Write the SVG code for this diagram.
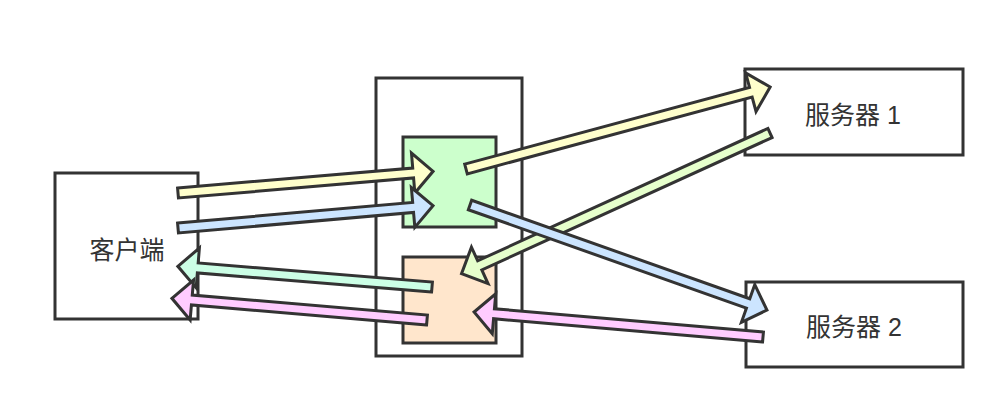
<svg xmlns="http://www.w3.org/2000/svg" width="995" height="418" viewBox="0 0 995 418">
<style>
.box{stroke:#333;stroke-width:3;fill:#fff}
.arr{stroke:#333;stroke-width:3;stroke-linejoin:miter}
.lbl{font-family:"Liberation Sans","Noto Sans CJK SC",sans-serif;font-size:25px;fill:#333;text-anchor:middle;dominant-baseline:central}
</style>
<rect width="995" height="418" fill="#fff"/>
<g id="client"><rect class="box" x="55" y="173" width="143" height="146"/><text class="lbl" x="127" y="250">客户端</text></g>
<g id="proxy"><rect class="box" x="376" y="78" width="146" height="278"/></g>
<g id="proxy-in"><rect class="box" x="403" y="137" width="93" height="90" style="fill:#ccffcc"/></g>
<g id="proxy-out"><rect class="box" x="403" y="257" width="93" height="86" style="fill:#ffe6cc"/></g>
<g id="server1"><rect class="box" x="745" y="69" width="218" height="86"/><text class="lbl" x="853" y="115">服务器 1</text></g>
<g id="server2"><rect class="box" x="746" y="282" width="217" height="85"/><text class="lbl" x="854" y="327">服务器 2</text></g>
<g id="connectors">
<path class="arr" fill="#ffffcc" transform="translate(178,193) rotate(-4.86)" d="M0,-5 H236 V-20 L256,0 L236,20 V5 H0 Z"/>
<path class="arr" fill="#cce5ff" transform="translate(178,228) rotate(-5.0)" d="M0,-5 H236 V-20 L256,0 L236,20 V5 H0 Z"/>
<path class="arr" fill="#ccffe6" transform="translate(432,287) rotate(-175.35)" d="M0,-5 H235 V-20 L255,0 L235,20 V5 H0 Z"/>
<path class="arr" fill="#ffccff" transform="translate(427,320) rotate(-175.14)" d="M0,-5 H236 V-20 L256,0 L236,20 V5 H0 Z"/>
<path class="arr" fill="#ffffcc" transform="translate(466,169) rotate(-15.09)" d="M0,-5 H295 V-20 L315,0 L295,20 V5 H0 Z"/>
<path class="arr" fill="#e6ffcc" transform="translate(770,133) rotate(155.49)" d="M0,-5 H319 V-20 L339,0 L319,20 V5 H0 Z"/>
<path class="arr" fill="#cce5ff" transform="translate(470,205) rotate(19.49)" d="M0,-5 H295 V-20 L315,0 L295,20 V5 H0 Z"/>
<path class="arr" fill="#ffccff" transform="translate(763,337) rotate(-175.06)" d="M0,-5 H270 V-20 L290,0 L270,20 V5 H0 Z"/>
</g>
</svg>
